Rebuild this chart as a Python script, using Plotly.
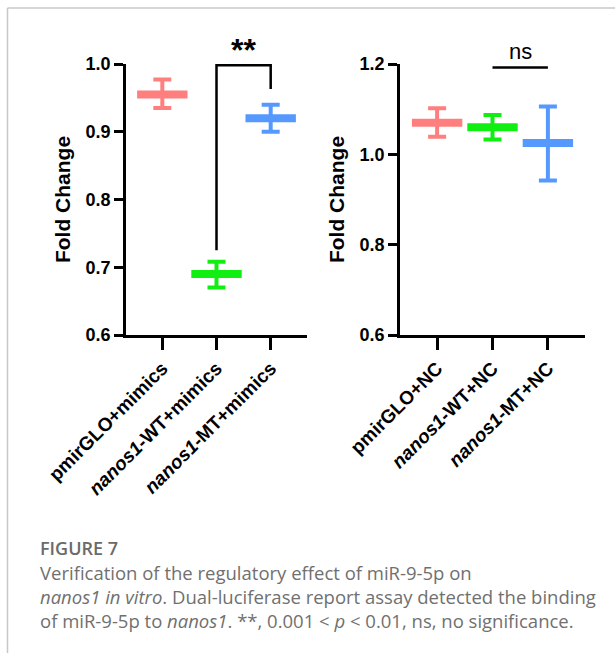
import plotly.graph_objects as go

# ---- data ----
groups_left = ["pmirGLO+mimics", "<i>nanos1</i>-WT+mimics", "<i>nanos1</i>-MT+mimics"]
groups_right = ["pmirGLO+NC", "<i>nanos1</i>-WT+NC", "<i>nanos1</i>-MT+NC"]
mean_left = [0.955, 0.690, 0.920]
low_left = [0.935, 0.670, 0.900]
high_left = [0.977, 0.708, 0.940]
mean_right = [1.070, 1.060, 1.025]
low_right = [1.039, 1.033, 0.942]
high_right = [1.102, 1.087, 1.106]
colors = ["#FF7F7F", "#11EE11", "#5599FF"]
yticks_left = [0.6, 0.7, 0.8, 0.9, 1.0]
yticks_right = [0.6, 0.8, 1.0, 1.2]
# significance brackets (x index pair, y values)
bracket_left_x = [1, 1, 2, 2]
bracket_left_y = [0.725, 0.998, 0.998, 0.963]
bracket_left_label = "**"
bracket_right_x = [1, 2]
bracket_right_y = [1.192, 1.192]
bracket_right_label = "ns"

caption_title = "FIGURE 7"
caption_lines = [
    "Verification of the regulatory effect of miR-9-5p on",
    "<i>nanos1 in vitro</i>. Dual-luciferase report assay detected the binding",
    "of miR-9-5p to <i>nanos1</i>. **, 0.001 &lt; <i>p</i> &lt; 0.01, ns, no significance.",
]

W, H = 615, 653
FONT = "Arial, Liberation Sans, sans-serif"

fig = go.Figure()


def add_panel(means, lows, highs, xa, ya):
    for i, (m, lo, hi) in enumerate(zip(means, lows, highs)):
        # SD error bar
        fig.add_trace(go.Scatter(
            x=[i], y=[m], mode="markers",
            marker=dict(size=1, color="rgba(0,0,0,0)"),
            error_y=dict(type="data", symmetric=False, array=[hi - m], arrayminus=[m - lo],
                         color=colors[i], thickness=4, width=9),
            xaxis=xa, yaxis=ya, showlegend=False, hoverinfo="skip"))
        # mean line
        fig.add_trace(go.Scatter(
            x=[i], y=[m], mode="markers",
            marker=dict(symbol="line-ew", size=36, line=dict(width=8, color=colors[i])),
            xaxis=xa, yaxis=ya, showlegend=False, hoverinfo="skip"))


add_panel(mean_left, low_left, high_left, "x", "y")
add_panel(mean_right, low_right, high_right, "x2", "y2")

fig.add_trace(go.Scatter(x=bracket_left_x, y=bracket_left_y, mode="lines",
                         line=dict(color="black", width=2.5), xaxis="x", yaxis="y",
                         showlegend=False, hoverinfo="skip", cliponaxis=False))
fig.add_trace(go.Scatter(x=bracket_right_x, y=bracket_right_y, mode="lines",
                         line=dict(color="black", width=2.5), xaxis="x2", yaxis="y2",
                         showlegend=False, hoverinfo="skip", cliponaxis=False))

fig.add_annotation(x=sum(bracket_left_x) / 4, y=max(bracket_left_y), xref="x", yref="y",
                   text="<b>" + bracket_left_label + "</b>", showarrow=False, yanchor="bottom",
                   yshift=-5, font=dict(size=32, family=FONT, color="black"))
fig.add_annotation(x=sum(bracket_right_x) / 2, y=max(bracket_right_y), xref="x2", yref="y2",
                   text=bracket_right_label, showarrow=False, yanchor="bottom",
                   yshift=2, font=dict(size=22, family=FONT, color="black"))

axis_common = dict(showline=True, linecolor="black", linewidth=2.5, ticks="outside",
                   tickcolor="black", tickwidth=2.5, showgrid=False, zeroline=False,
                   automargin=False)
ytickfont = dict(family=FONT, size=18, color="black", weight="bold")
xtickfont = dict(family=FONT, size=19, color="black", weight="bold")
titlefont = dict(family=FONT, size=21, color="black")

xdom_l = [126 / W, 307 / W]
xdom_r = [400 / W, 585 / W]
ydom = [1 - 335 / H, 1 - 64 / H]

fig.update_layout(
    template="none",
    width=W, height=H, margin=dict(l=0, r=0, t=0, b=0, pad=0),
    paper_bgcolor="white", plot_bgcolor="white",
    xaxis=dict(domain=xdom_l, range=[-0.67, 2.67], tickvals=[0, 1, 2], ticktext=groups_left,
               tickangle=-45, ticklen=12, anchor="y", tickfont=xtickfont, **axis_common),
    yaxis=dict(domain=ydom, range=[0.6, 1.0], tickvals=yticks_left,
               ticktext=[f"{v:.1f}" for v in yticks_left], ticklen=9, anchor="x", tickfont=ytickfont,
               title=dict(text="<b>Fold Change</b>", font=titlefont, standoff=10), **axis_common),
    xaxis2=dict(domain=xdom_r, range=[-0.67, 2.67], tickvals=[0, 1, 2], ticktext=groups_right,
                tickangle=-45, ticklen=12, anchor="y2", tickfont=xtickfont, **axis_common),
    yaxis2=dict(domain=ydom, range=[0.6, 1.2], tickvals=yticks_right,
                ticktext=[f"{v:.1f}" for v in yticks_right], ticklen=9, anchor="x2", tickfont=ytickfont,
                title=dict(text="<b>Fold Change</b>", font=titlefont, standoff=10), **axis_common),
)

# frame lines (gray border of the figure box)
fig.add_shape(type="line", xref="paper", yref="paper", x0=7.5 / W, x1=1, y0=1 - 8 / H, y1=1 - 8 / H,
              line=dict(color="#C8C8C8", width=1.5))
fig.add_shape(type="line", xref="paper", yref="paper", x0=7.5 / W, x1=7.5 / W, y0=0, y1=1 - 8 / H,
              line=dict(color="#C8C8C8", width=1.5))

# caption
fig.add_annotation(x=38 / W, y=1 - 548 / H, xref="paper", yref="paper", xanchor="left", yanchor="middle",
                   text=caption_title, showarrow=False,
                   font=dict(family="Open Sans", size=18, color="#6A6A6A", weight=600))
fig.add_annotation(x=38 / W, y=1 - 596 / H, xref="paper", yref="paper",
                   xanchor="left", yanchor="middle", align="left", text="<br>".join(caption_lines),
                   showarrow=False, font=dict(family="Open Sans", size=18.5, color="#707070"))

fig.write_html("out.html", post_script="document.body.style.margin='0';",
               config={"displayModeBar": False})
